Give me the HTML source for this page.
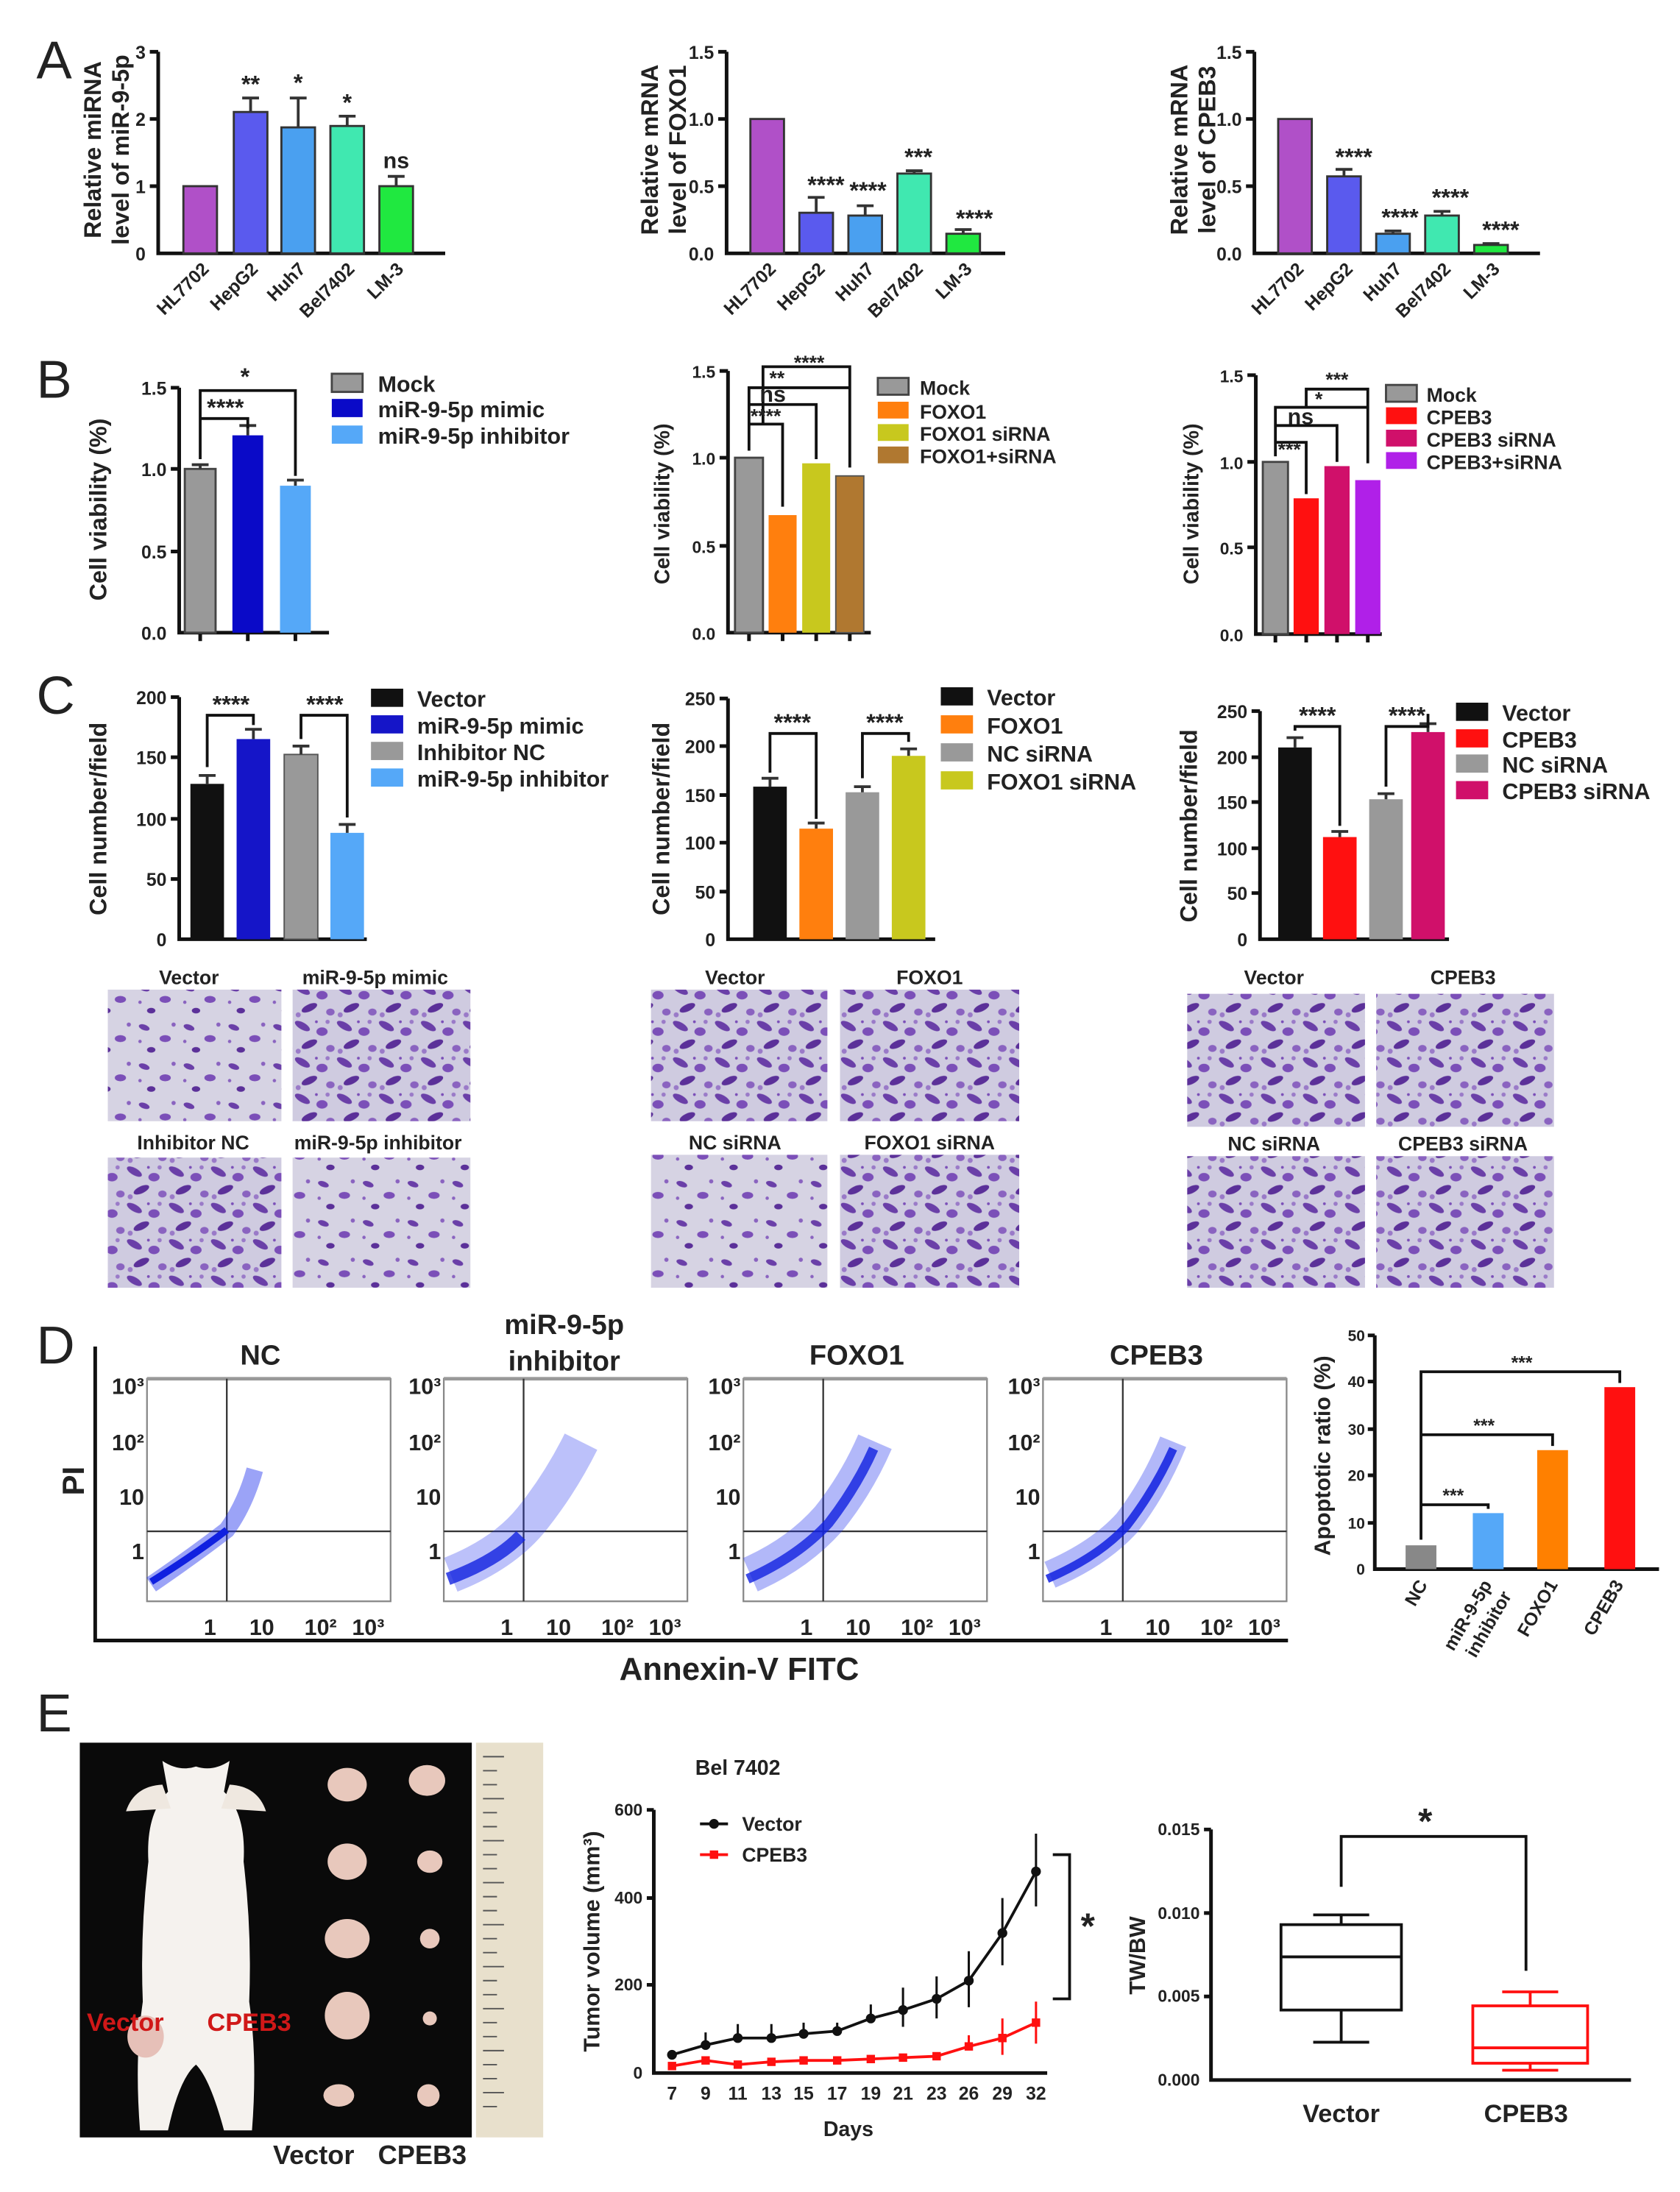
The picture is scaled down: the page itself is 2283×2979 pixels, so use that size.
<!DOCTYPE html>
<html><head><meta charset="utf-8"><style>
html,body{margin:0;padding:0;background:#fff}
svg{display:block}
text{font-family:"Liberation Sans",Arial,sans-serif;font-weight:bold;fill:#222}
.ax{stroke:#111;stroke-width:2.6;fill:none}
.br{stroke:#111;stroke-width:2;fill:none}
.eb{stroke:#333;stroke-width:2;fill:none}
.t{font-size:13px}
.yl{font-size:17px}
.lg{font-size:16px}
.st{font-size:17px}
</style></head><body>
<svg width="2283" height="2979" viewBox="0 0 1200 1566" preserveAspectRatio="none" xmlns="http://www.w3.org/2000/svg">
<defs>
<pattern id="cells" width="30" height="26" patternUnits="userSpaceOnUse">
<rect width="30" height="26" fill="#cfcbe0"/>
<ellipse cx="6" cy="5" rx="6" ry="2.5" fill="#6a3fa8" transform="rotate(30 6 5)"/>
<ellipse cx="20" cy="9" rx="4" ry="3" fill="#7b4fb8"/>
<ellipse cx="11" cy="18" rx="6" ry="2.5" fill="#5b3099" transform="rotate(-25 11 18)"/>
<ellipse cx="26" cy="21" rx="3" ry="2.5" fill="#8a63c0"/>
<circle cx="3" cy="23" r="1.8" fill="#9a7ac8"/>
<circle cx="24" cy="2" r="1.5" fill="#9a7ac8"/>
<circle cx="16" cy="2" r="1" fill="#7b4fb8"/>
</pattern>
<pattern id="cells2" width="32" height="28" patternUnits="userSpaceOnUse">
<rect width="32" height="28" fill="#d6d3e3"/>
<ellipse cx="7" cy="6" rx="4" ry="2" fill="#6a3fa8" transform="rotate(20 7 6)"/>
<ellipse cx="22" cy="14" rx="4" ry="2.5" fill="#7b4fb8"/>
<ellipse cx="12" cy="22" rx="3" ry="2" fill="#5b3099"/>
<circle cx="28" cy="4" r="1.5" fill="#8a63c0"/>
<circle cx="4" cy="16" r="1.2" fill="#8a63c0"/>
</pattern>
</defs>
<rect width="1200" height="1566" fill="#fff"/>

<!-- ===== A ===== -->
<text x="26" y="56" style="font-size:38px;font-weight:normal">A</text>
<text transform="translate(72,107) rotate(-90)" text-anchor="middle" class="yl">Relative miRNA</text>
<text transform="translate(92,107) rotate(-90)" text-anchor="middle" class="yl">level of miR-9-5p</text>
<path class="ax" d="M113,37V181H318"/>
<path class="ax" d="M107,37H113M107,85H113M107,133H113"/>
<text x="104" y="42" class="t" text-anchor="end">3</text><text x="104" y="90" class="t" text-anchor="end">2</text><text x="104" y="138" class="t" text-anchor="end">1</text><text x="104" y="186" class="t" text-anchor="end">0</text>
<rect x="131" y="133" width="24" height="48" fill="#b050c8" stroke="#333" stroke-width="1.5"/>
<rect x="167" y="80" width="24" height="101" fill="#5a5aee" stroke="#333" stroke-width="1.5"/>
<rect x="201" y="91" width="24" height="90" fill="#4aa0f0" stroke="#333" stroke-width="1.5"/>
<rect x="236" y="90" width="24" height="91" fill="#40e8b0" stroke="#333" stroke-width="1.5"/>
<rect x="271" y="133" width="24" height="48" fill="#20e840" stroke="#333" stroke-width="1.5"/>
<path class="eb" d="M179,80V70M173,70H185M213,91V70M207,70H219M248,90V83M242,83H254M283,133V126M277,126H289"/>
<text x="179" y="66" class="st" text-anchor="middle">**</text><text x="213" y="65" class="st" text-anchor="middle">*</text><text x="248" y="79" class="st" text-anchor="middle">*</text><text x="283" y="120" style="font-size:16px" text-anchor="middle">ns</text>
<g class="t" text-anchor="end"><text transform="translate(150,193) rotate(-45)">HL7702</text><text transform="translate(185,193) rotate(-45)">HepG2</text><text transform="translate(219,193) rotate(-45)">Huh7</text><text transform="translate(254,193) rotate(-45)">Bel7402</text><text transform="translate(289,193) rotate(-45)">LM-3</text></g>
<!-- A2 -->
<text transform="translate(470,107) rotate(-90)" text-anchor="middle" class="yl">Relative mRNA</text>
<text transform="translate(490,107) rotate(-90)" text-anchor="middle" class="yl">level of FOXO1</text>
<path class="ax" d="M519,37V181H718"/>
<path class="ax" d="M513,37H519M513,85H519M513,133H519"/>
<text x="510" y="42" class="t" text-anchor="end">1.5</text><text x="510" y="90" class="t" text-anchor="end">1.0</text><text x="510" y="138" class="t" text-anchor="end">0.5</text><text x="510" y="186" class="t" text-anchor="end">0.0</text>
<rect x="536" y="85" width="24" height="96" fill="#b050c8" stroke="#333" stroke-width="1.5"/>
<rect x="571" y="152" width="24" height="29" fill="#5a5aee" stroke="#333" stroke-width="1.5"/>
<rect x="606" y="154" width="24" height="27" fill="#4aa0f0" stroke="#333" stroke-width="1.5"/>
<rect x="641" y="124" width="24" height="57" fill="#40e8b0" stroke="#333" stroke-width="1.5"/>
<rect x="676" y="167" width="24" height="14" fill="#20e840" stroke="#333" stroke-width="1.5"/>
<path class="eb" d="M583,152V141M577,141H589M618,154V147M612,147H624M653,124V122M647,122H659M688,167V164M682,164H694"/>
<text x="590" y="138" class="st" text-anchor="middle">****</text><text x="620" y="142" class="st" text-anchor="middle">****</text><text x="656" y="118" class="st" text-anchor="middle">***</text><text x="696" y="162" class="st" text-anchor="middle">****</text>
<g class="t" text-anchor="end"><text transform="translate(555,193) rotate(-45)">HL7702</text><text transform="translate(590,193) rotate(-45)">HepG2</text><text transform="translate(625,193) rotate(-45)">Huh7</text><text transform="translate(660,193) rotate(-45)">Bel7402</text><text transform="translate(695,193) rotate(-45)">LM-3</text></g>
<!-- A3 -->
<text transform="translate(848,107) rotate(-90)" text-anchor="middle" class="yl">Relative mRNA</text>
<text transform="translate(868,107) rotate(-90)" text-anchor="middle" class="yl">level of CPEB3</text>
<path class="ax" d="M896,37V181H1100"/>
<path class="ax" d="M890,37H896M890,85H896M890,133H896"/>
<text x="887" y="42" class="t" text-anchor="end">1.5</text><text x="887" y="90" class="t" text-anchor="end">1.0</text><text x="887" y="138" class="t" text-anchor="end">0.5</text><text x="887" y="186" class="t" text-anchor="end">0.0</text>
<rect x="913" y="85" width="24" height="96" fill="#b050c8" stroke="#333" stroke-width="1.5"/>
<rect x="948" y="126" width="24" height="55" fill="#5a5aee" stroke="#333" stroke-width="1.5"/>
<rect x="983" y="167" width="24" height="14" fill="#4aa0f0" stroke="#333" stroke-width="1.5"/>
<rect x="1018" y="154" width="24" height="27" fill="#40e8b0" stroke="#333" stroke-width="1.5"/>
<rect x="1053" y="175" width="24" height="6" fill="#20e840" stroke="#333" stroke-width="1.5"/>
<path class="eb" d="M960,126V121M954,121H966M995,167V165M989,165H1001M1030,154V151M1024,151H1036M1065,175V174M1059,174H1071"/>
<text x="967" y="118" class="st" text-anchor="middle">****</text><text x="1000" y="161" class="st" text-anchor="middle">****</text><text x="1036" y="147" class="st" text-anchor="middle">****</text><text x="1072" y="170" class="st" text-anchor="middle">****</text>
<g class="t" text-anchor="end"><text transform="translate(932,193) rotate(-45)">HL7702</text><text transform="translate(967,193) rotate(-45)">HepG2</text><text transform="translate(1002,193) rotate(-45)">Huh7</text><text transform="translate(1037,193) rotate(-45)">Bel7402</text><text transform="translate(1072,193) rotate(-45)">LM-3</text></g>

<!-- ===== B ===== -->
<text x="26" y="284" style="font-size:38px;font-weight:normal">B</text>
<text transform="translate(76,364) rotate(-90)" text-anchor="middle" class="yl">Cell viability (%)</text>
<path class="ax" d="M128,277V452H235"/>
<path class="ax" d="M122,277H128M122,335H128M122,394H128M143,452V458M177,452V458M211,452V458"/>
<text x="119" y="282" class="t" text-anchor="end">1.5</text><text x="119" y="340" class="t" text-anchor="end">1.0</text><text x="119" y="399" class="t" text-anchor="end">0.5</text><text x="119" y="457" class="t" text-anchor="end">0.0</text>
<rect x="132" y="335" width="22" height="117" fill="#999" stroke="#444" stroke-width="1.5"/>
<rect x="166" y="311" width="22" height="141" fill="#0a0ac8"/>
<rect x="200" y="347" width="22" height="105" fill="#55a8f8"/>
<path class="eb" d="M143,335V332M137,332H149M177,311V304M171,304H183M211,347V343M205,343H217"/>
<path class="br" d="M143,328V299H177V306M143,299V279H211V340"/>
<text x="161" y="297" class="st" text-anchor="middle">****</text><text x="175" y="275" class="st" text-anchor="middle">*</text>
<rect x="237" y="267" width="22" height="13" fill="#999" stroke="#444" stroke-width="1.5"/><text x="270" y="280" class="lg">Mock</text>
<rect x="237" y="285" width="22" height="13" fill="#0a0ac8"/><text x="270" y="298" class="lg">miR-9-5p mimic</text>
<rect x="237" y="304" width="22" height="13" fill="#55a8f8"/><text x="270" y="317" class="lg">miR-9-5p inhibitor</text>
<!-- B2 -->
<text transform="translate(478,360) rotate(-90)" text-anchor="middle" style="font-size:15px">Cell viability (%)</text>
<path class="ax" d="M520,265V452H622"/>
<path class="ax" d="M514,265H520M514,327H520M514,390H520M535,452V458M559,452V458M583,452V458M607,452V458"/>
<text x="511" y="270" style="font-size:12px" text-anchor="end">1.5</text><text x="511" y="332" style="font-size:12px" text-anchor="end">1.0</text><text x="511" y="395" style="font-size:12px" text-anchor="end">0.5</text><text x="511" y="457" style="font-size:12px" text-anchor="end">0.0</text>
<rect x="525" y="327" width="20" height="125" fill="#999" stroke="#444" stroke-width="1.5"/>
<rect x="549" y="368" width="20" height="84" fill="#ff7f0e"/>
<rect x="573" y="331" width="20" height="121" fill="#c8c81e"/>
<rect x="597" y="340" width="20" height="112" fill="#b07830" stroke="#555" stroke-width="1"/>
<path class="br" d="M535,322V303H559V362M535,303V289H583V328M535,289V277H607V334M545,303V262H607V277"/>
<text x="547" y="302" style="font-size:14px" text-anchor="middle">****</text><text x="552" y="287" style="font-size:16px" text-anchor="middle">ns</text><text x="555" y="275" style="font-size:14px" text-anchor="middle">**</text><text x="578" y="264" style="font-size:14px" text-anchor="middle">****</text>
<rect x="627" y="270" width="22" height="12" fill="#999" stroke="#444" stroke-width="1.5"/><text x="657" y="282" style="font-size:14px">Mock</text>
<rect x="627" y="287" width="22" height="12" fill="#ff7f0e"/><text x="657" y="299" style="font-size:14px">FOXO1</text>
<rect x="627" y="303" width="22" height="12" fill="#c8c81e"/><text x="657" y="315" style="font-size:14px">FOXO1 siRNA</text>
<rect x="627" y="319" width="22" height="12" fill="#b07830"/><text x="657" y="331" style="font-size:14px">FOXO1+siRNA</text>
<!-- B3 -->
<text transform="translate(856,360) rotate(-90)" text-anchor="middle" style="font-size:15px">Cell viability (%)</text>
<path class="ax" d="M897,268V453H987"/>
<path class="ax" d="M891,268H897M891,330H897M891,391H897M911,453V459M933,453V459M955,453V459M977,453V459"/>
<text x="888" y="273" style="font-size:12px" text-anchor="end">1.5</text><text x="888" y="335" style="font-size:12px" text-anchor="end">1.0</text><text x="888" y="396" style="font-size:12px" text-anchor="end">0.5</text><text x="888" y="458" style="font-size:12px" text-anchor="end">0.0</text>
<rect x="902" y="330" width="18" height="123" fill="#999" stroke="#444" stroke-width="1.5"/>
<rect x="924" y="356" width="18" height="97" fill="#ff1010"/>
<rect x="946" y="333" width="18" height="120" fill="#d0106a"/>
<rect x="968" y="343" width="18" height="110" fill="#b020e8"/>
<path class="br" d="M911,326V316H933V353M911,316V304H955V330M911,304V291H977V331M933,291V278H977V291"/>
<text x="921" y="326" style="font-size:14px" text-anchor="middle">***</text><text x="929" y="303" style="font-size:16px" text-anchor="middle">ns</text><text x="942" y="290" style="font-size:14px" text-anchor="middle">*</text><text x="955" y="276" style="font-size:14px" text-anchor="middle">***</text>
<rect x="990" y="275" width="22" height="12" fill="#999" stroke="#444" stroke-width="1.5"/><text x="1019" y="287" style="font-size:14px">Mock</text>
<rect x="990" y="291" width="22" height="12" fill="#ff1010"/><text x="1019" y="303" style="font-size:14px">CPEB3</text>
<rect x="990" y="307" width="22" height="12" fill="#d0106a"/><text x="1019" y="319" style="font-size:14px">CPEB3 siRNA</text>
<rect x="990" y="323" width="22" height="12" fill="#b020e8"/><text x="1019" y="335" style="font-size:14px">CPEB3+siRNA</text>

<!-- ===== C ===== -->
<text x="26" y="510" style="font-size:38px;font-weight:normal">C</text>
<text transform="translate(76,585) rotate(-90)" text-anchor="middle" class="yl">Cell number/field</text>
<path class="ax" d="M128,498V671H262"/>
<path class="ax" d="M122,498H128M122,541H128M122,585H128M122,628H128"/>
<text x="119" y="503" class="t" text-anchor="end">200</text><text x="119" y="546" class="t" text-anchor="end">150</text><text x="119" y="590" class="t" text-anchor="end">100</text><text x="119" y="633" class="t" text-anchor="end">50</text><text x="119" y="676" class="t" text-anchor="end">0</text>
<rect x="136" y="560" width="24" height="111" fill="#111"/>
<rect x="169" y="528" width="24" height="143" fill="#1515c8"/>
<rect x="203" y="539" width="24" height="132" fill="#999" stroke="#555" stroke-width="1"/>
<rect x="236" y="595" width="24" height="76" fill="#55a8f8"/>
<path class="eb" d="M148,560V554M142,554H154M181,528V521M175,521H187M215,539V533M209,533H221M248,595V589M242,589H254"/>
<path class="br" d="M148,548V511H181V518M215,528V511H248V584"/>
<text x="165" y="509" class="st" text-anchor="middle">****</text><text x="232" y="509" class="st" text-anchor="middle">****</text>
<rect x="265" y="492" width="23" height="13" fill="#111"/><text x="298" y="505" class="lg">Vector</text>
<rect x="265" y="511" width="23" height="13" fill="#1515c8"/><text x="298" y="524" class="lg">miR-9-5p mimic</text>
<rect x="265" y="530" width="23" height="13" fill="#999"/><text x="298" y="543" class="lg">Inhibitor NC</text>
<rect x="265" y="549" width="23" height="13" fill="#55a8f8"/><text x="298" y="562" class="lg">miR-9-5p inhibitor</text>
<!-- C2 -->
<text transform="translate(478,585) rotate(-90)" text-anchor="middle" class="yl">Cell number/field</text>
<path class="ax" d="M520,499V671H668"/>
<path class="ax" d="M514,499H520M514,533H520M514,568H520M514,602H520M514,637H520"/>
<text x="511" y="504" class="t" text-anchor="end">250</text><text x="511" y="538" class="t" text-anchor="end">200</text><text x="511" y="573" class="t" text-anchor="end">150</text><text x="511" y="607" class="t" text-anchor="end">100</text><text x="511" y="642" class="t" text-anchor="end">50</text><text x="511" y="676" class="t" text-anchor="end">0</text>
<rect x="538" y="562" width="24" height="109" fill="#111"/>
<rect x="571" y="592" width="24" height="79" fill="#ff7f0e"/>
<rect x="604" y="566" width="24" height="105" fill="#999"/>
<rect x="637" y="540" width="24" height="131" fill="#c8c81e"/>
<path class="eb" d="M550,562V556M544,556H556M583,592V588M577,588H589M616,566V562M610,562H622M649,540V535M643,535H655"/>
<path class="br" d="M550,552V524H583V585M616,556V524H649V530"/>
<text x="566" y="522" class="st" text-anchor="middle">****</text><text x="632" y="522" class="st" text-anchor="middle">****</text>
<rect x="672" y="491" width="23" height="13" fill="#111"/><text x="705" y="504" class="lg">Vector</text>
<rect x="672" y="511" width="23" height="13" fill="#ff7f0e"/><text x="705" y="524" class="lg">FOXO1</text>
<rect x="672" y="531" width="23" height="13" fill="#999"/><text x="705" y="544" class="lg">NC siRNA</text>
<rect x="672" y="551" width="23" height="13" fill="#c8c81e"/><text x="705" y="564" class="lg">FOXO1 siRNA</text>
<!-- C3 -->
<text transform="translate(855,590) rotate(-90)" text-anchor="middle" class="yl">Cell number/field</text>
<path class="ax" d="M900,508V671H1035"/>
<path class="ax" d="M894,508H900M894,541H900M894,573H900M894,606H900M894,638H900"/>
<text x="891" y="513" class="t" text-anchor="end">250</text><text x="891" y="546" class="t" text-anchor="end">200</text><text x="891" y="578" class="t" text-anchor="end">150</text><text x="891" y="611" class="t" text-anchor="end">100</text><text x="891" y="643" class="t" text-anchor="end">50</text><text x="891" y="676" class="t" text-anchor="end">0</text>
<rect x="913" y="534" width="24" height="137" fill="#111"/>
<rect x="945" y="598" width="24" height="73" fill="#ff1010"/>
<rect x="978" y="571" width="24" height="100" fill="#999"/>
<rect x="1008" y="523" width="24" height="148" fill="#d0106a"/>
<path class="eb" d="M925,534V527M919,527H931M957,598V594M951,594H963M990,571V567M984,567H996M1020,523V517M1014,517H1026"/>
<path class="br" d="M925,522V519H957V590M990,562V519H1020V510"/>
<text x="941" y="517" class="st" text-anchor="middle">****</text><text x="1005" y="517" class="st" text-anchor="middle">****</text>
<rect x="1040" y="502" width="23" height="13" fill="#111"/><text x="1073" y="515" class="lg">Vector</text>
<rect x="1040" y="521" width="23" height="13" fill="#ff1010"/><text x="1073" y="534" class="lg">CPEB3</text>
<rect x="1040" y="539" width="23" height="13" fill="#999"/><text x="1073" y="552" class="lg">NC siRNA</text>
<rect x="1040" y="558" width="23" height="13" fill="#d0106a"/><text x="1073" y="571" class="lg">CPEB3 siRNA</text>

<!-- microscopy -->
<g style="font-size:14px" text-anchor="middle">
<text x="135" y="703">Vector</text><text x="268" y="703">miR-9-5p mimic</text>
<text x="138" y="821">Inhibitor NC</text><text x="270" y="821">miR-9-5p inhibitor</text>
<text x="525" y="703">Vector</text><text x="664" y="703">FOXO1</text>
<text x="525" y="821">NC siRNA</text><text x="664" y="821">FOXO1 siRNA</text>
<text x="910" y="703">Vector</text><text x="1045" y="703">CPEB3</text>
<text x="910" y="822">NC siRNA</text><text x="1045" y="822">CPEB3 siRNA</text>
</g>
<rect x="77" y="707" width="124" height="94" fill="url(#cells2)"/>
<rect x="209" y="707" width="127" height="94" fill="url(#cells)"/>
<rect x="77" y="827" width="124" height="93" fill="url(#cells)"/>
<rect x="209" y="827" width="127" height="93" fill="url(#cells2)"/>
<rect x="465" y="707" width="126" height="94" fill="url(#cells)"/>
<rect x="600" y="707" width="128" height="94" fill="url(#cells)"/>
<rect x="465" y="825" width="126" height="95" fill="url(#cells2)"/>
<rect x="600" y="825" width="128" height="95" fill="url(#cells)"/>
<rect x="848" y="710" width="127" height="95" fill="url(#cells)"/>
<rect x="983" y="710" width="127" height="95" fill="url(#cells)"/>
<rect x="848" y="826" width="127" height="94" fill="url(#cells)"/>
<rect x="983" y="826" width="127" height="94" fill="url(#cells)"/>

<!-- ===== D ===== -->
<text x="26" y="974" style="font-size:38px;font-weight:normal">D</text>
<path class="ax" d="M68,962V1172H920"/>
<text transform="translate(60,1058) rotate(-90)" text-anchor="middle" style="font-size:22px">PI</text>
<text x="528" y="1200" text-anchor="middle" style="font-size:23px">Annexin-V FITC</text>
<g style="font-size:20px" text-anchor="middle"><text x="186" y="975">NC</text><text x="403" y="953">miR-9-5p</text><text x="403" y="979">inhibitor</text><text x="612" y="975">FOXO1</text><text x="826" y="975">CPEB3</text></g>
<g>
<rect x="105" y="985" width="174" height="159" fill="none" stroke="#888" stroke-width="1.2"/>
<path d="M105,985H279" stroke="#999" stroke-width="2.5"/>
<path d="M162,985V1144M105,1094H279" stroke="#333" stroke-width="1.2"/>
<path d="M108,1132Q140,1110 162,1093Q175,1075 182,1050" stroke="#2233ee" stroke-width="12" fill="none" opacity="0.45"/>
<path d="M108,1130Q140,1110 162,1093" stroke="#1020e0" stroke-width="5" fill="none"/>
</g>
<g>
<rect x="317" y="985" width="174" height="159" fill="none" stroke="#888" stroke-width="1.2"/>
<path d="M317,985H491" stroke="#999" stroke-width="2.5"/>
<path d="M374,985V1144M317,1094H491" stroke="#333" stroke-width="1.2"/>
<path d="M322,1125Q360,1110 380,1085Q400,1060 415,1030" stroke="#2233ee" stroke-width="26" fill="none" opacity="0.3"/>
<path d="M320,1128Q355,1115 372,1097" stroke="#1020e0" stroke-width="9" fill="none" opacity="0.8"/>
</g>
<g>
<rect x="531" y="985" width="174" height="159" fill="none" stroke="#888" stroke-width="1.2"/>
<path d="M531,985H705" stroke="#999" stroke-width="2.5"/>
<path d="M588,985V1144M531,1094H705" stroke="#333" stroke-width="1.2"/>
<path d="M536,1125Q570,1110 592,1085Q612,1060 625,1030" stroke="#2233ee" stroke-width="26" fill="none" opacity="0.35"/>
<path d="M534,1128Q570,1112 592,1088Q612,1062 624,1035" stroke="#1020e0" stroke-width="7" fill="none" opacity="0.8"/>
</g>
<g>
<rect x="745" y="985" width="174" height="159" fill="none" stroke="#888" stroke-width="1.2"/>
<path d="M745,985H919" stroke="#999" stroke-width="2.5"/>
<path d="M802,985V1144M745,1094H919" stroke="#333" stroke-width="1.2"/>
<path d="M750,1125Q785,1110 805,1088Q825,1062 838,1030" stroke="#2233ee" stroke-width="20" fill="none" opacity="0.35"/>
<path d="M748,1128Q785,1112 805,1090Q825,1064 838,1035" stroke="#1020e0" stroke-width="6" fill="none" opacity="0.85"/>
</g>
<g style="font-size:16px" text-anchor="end">
<text x="103" y="996">10³</text><text x="103" y="1036">10²</text><text x="103" y="1075">10</text><text x="103" y="1114">1</text>
<text x="315" y="996">10³</text><text x="315" y="1036">10²</text><text x="315" y="1075">10</text><text x="315" y="1114">1</text>
<text x="529" y="996">10³</text><text x="529" y="1036">10²</text><text x="529" y="1075">10</text><text x="529" y="1114">1</text>
<text x="743" y="996">10³</text><text x="743" y="1036">10²</text><text x="743" y="1075">10</text><text x="743" y="1114">1</text>
</g>
<g style="font-size:16px" text-anchor="middle">
<text x="150" y="1168">1</text><text x="187" y="1168">10</text><text x="229" y="1168">10²</text><text x="263" y="1168">10³</text>
<text x="362" y="1168">1</text><text x="399" y="1168">10</text><text x="441" y="1168">10²</text><text x="475" y="1168">10³</text>
<text x="576" y="1168">1</text><text x="613" y="1168">10</text><text x="655" y="1168">10²</text><text x="689" y="1168">10³</text>
<text x="790" y="1168">1</text><text x="827" y="1168">10</text><text x="869" y="1168">10²</text><text x="903" y="1168">10³</text>
</g>
<text transform="translate(950,1040) rotate(-90)" text-anchor="middle" style="font-size:16px">Apoptotic ratio (%)</text>
<path class="ax" d="M982,954V1121H1185"/>
<path class="ax" d="M977,954H982M977,987H982M977,1021H982M977,1054H982M977,1088H982"/>
<g style="font-size:11px" text-anchor="end"><text x="975" y="958">50</text><text x="975" y="991">40</text><text x="975" y="1025">30</text><text x="975" y="1058">20</text><text x="975" y="1092">10</text><text x="975" y="1125">0</text></g>
<rect x="1004" y="1104" width="22" height="17" fill="#888"/>
<rect x="1052" y="1081" width="22" height="40" fill="#55a8f8"/>
<rect x="1098" y="1036" width="22" height="85" fill="#ff8000"/>
<rect x="1146" y="991" width="22" height="130" fill="#ff1010"/>
<path class="br" d="M1015,1100V1075H1063V1078M1015,1075V1025H1109V1033M1015,1025V980H1157V988"/>
<g style="font-size:13px" text-anchor="middle"><text x="1038" y="1073">***</text><text x="1060" y="1023">***</text><text x="1087" y="978">***</text></g>
<g style="font-size:13px" text-anchor="end">
<text transform="translate(1020,1132) rotate(-60)">NC</text>
<text transform="translate(1066,1132) rotate(-60)">miR-9-5p</text>
<text transform="translate(1080,1140) rotate(-60)">inhibitor</text>
<text transform="translate(1113,1132) rotate(-60)">FOXO1</text>
<text transform="translate(1160,1132) rotate(-60)">CPEB3</text>
</g>

<!-- ===== E ===== -->
<text x="26" y="1237" style="font-size:38px;font-weight:normal">E</text>
<rect x="57" y="1245" width="280" height="282" fill="#0a0a0a"/>
<path d="M116,1258Q128,1266 140,1262Q152,1266 164,1258L160,1280Q176,1296 174,1330Q180,1380 178,1430Q184,1470 180,1522H160Q150,1485 140,1475Q128,1485 120,1522H100Q96,1470 102,1430Q100,1380 106,1330Q104,1296 120,1280Z" fill="#f5f2ee"/>
<path d="M116,1275Q96,1276 90,1294L122,1292ZM164,1275Q184,1276 190,1294L158,1292Z" fill="#efe8e0"/>
<ellipse cx="104" cy="1455" rx="13" ry="15" fill="#e6c0b8"/>
<g fill="#e8c8bc">
<ellipse cx="248" cy="1275" rx="14" ry="12"/><ellipse cx="305" cy="1272" rx="13" ry="11"/>
<ellipse cx="248" cy="1330" rx="14" ry="13"/><ellipse cx="307" cy="1330" rx="9" ry="8"/>
<ellipse cx="248" cy="1385" rx="16" ry="14"/><ellipse cx="307" cy="1385" rx="7" ry="7"/>
<ellipse cx="248" cy="1440" rx="16" ry="17"/><ellipse cx="307" cy="1442" rx="5" ry="5"/>
<ellipse cx="242" cy="1497" rx="11" ry="8"/><ellipse cx="306" cy="1497" rx="8" ry="8"/>
</g>
<rect x="340" y="1245" width="48" height="282" fill="#e8e0cc"/>
<path d="M345,1255H360M345,1265H355M345,1275H355M345,1285H360M345,1295H355M345,1305H355M345,1315H360M345,1325H355M345,1335H355M345,1345H360M345,1355H355M345,1365H355M345,1375H360M345,1385H355M345,1395H355M345,1405H360M345,1415H355M345,1425H355M345,1435H360M345,1445H355M345,1455H355M345,1465H360M345,1475H355M345,1485H355M345,1495H360M345,1505H355" stroke="#555" stroke-width="1"/>
<text x="62" y="1451" style="font-size:18px;fill:#d01818">Vector</text><text x="148" y="1451" style="font-size:18px;fill:#d01818">CPEB3</text>
<text x="195" y="1546" style="font-size:19px">Vector</text><text x="270" y="1546" style="font-size:19px">CPEB3</text>
<text x="527" y="1268" text-anchor="middle" style="font-size:15px">Bel 7402</text>
<text transform="translate(428,1387) rotate(-90)" text-anchor="middle" style="font-size:16px">Tumor volume (mm³)</text>
<path class="ax" d="M467,1293V1481H748"/>
<path class="ax" d="M462,1293H467M462,1356H467M462,1418H467"/>
<g style="font-size:12px" text-anchor="end"><text x="459" y="1297">600</text><text x="459" y="1360">400</text><text x="459" y="1422">200</text><text x="459" y="1485">0</text></g>
<g style="font-size:13px" text-anchor="middle">
<text x="480" y="1500">7</text><text x="504" y="1500">9</text><text x="527" y="1500">11</text><text x="551" y="1500">13</text><text x="574" y="1500">15</text><text x="598" y="1500">17</text><text x="622" y="1500">19</text><text x="645" y="1500">21</text><text x="669" y="1500">23</text><text x="692" y="1500">26</text><text x="716" y="1500">29</text><text x="740" y="1500">32</text>
</g>
<text x="606" y="1526" text-anchor="middle" style="font-size:15px">Days</text>
<path d="M504,1460V1452M527,1456V1446M551,1456V1446M574,1453V1445M598,1451V1445M622,1442V1432M645,1436V1420M669,1428V1412M692,1415V1394M716,1381V1356M740,1337V1310M740,1337V1362M716,1381V1404M692,1415V1434M669,1428V1442M645,1436V1448" stroke="#111" stroke-width="1.6"/>
<path d="M692,1462V1454M716,1456V1442M740,1445V1430M740,1445V1460M716,1456V1468" stroke="#ff1010" stroke-width="1.6"/>
<polyline points="480,1468 504,1461 527,1456 551,1456 574,1453 598,1451 622,1442 645,1436 669,1428 692,1415 716,1381 740,1337" fill="none" stroke="#111" stroke-width="2"/>
<g fill="#111"><circle cx="480" cy="1468" r="3.5"/><circle cx="504" cy="1461" r="3.5"/><circle cx="527" cy="1456" r="3.5"/><circle cx="551" cy="1456" r="3.5"/><circle cx="574" cy="1453" r="3.5"/><circle cx="598" cy="1451" r="3.5"/><circle cx="622" cy="1442" r="3.5"/><circle cx="645" cy="1436" r="3.5"/><circle cx="669" cy="1428" r="3.5"/><circle cx="692" cy="1415" r="3.5"/><circle cx="716" cy="1381" r="3.5"/><circle cx="740" cy="1337" r="3.5"/></g>
<polyline points="480,1476 504,1472 527,1475 551,1473 574,1472 598,1472 622,1471 645,1470 669,1469 692,1462 716,1456 740,1445" fill="none" stroke="#ff1010" stroke-width="2"/>
<g fill="#ff1010"><rect x="477" y="1473" width="6" height="6"/><rect x="501" y="1469" width="6" height="6"/><rect x="524" y="1472" width="6" height="6"/><rect x="548" y="1470" width="6" height="6"/><rect x="571" y="1469" width="6" height="6"/><rect x="595" y="1469" width="6" height="6"/><rect x="619" y="1468" width="6" height="6"/><rect x="642" y="1467" width="6" height="6"/><rect x="666" y="1466" width="6" height="6"/><rect x="689" y="1459" width="6" height="6"/><rect x="713" y="1453" width="6" height="6"/><rect x="737" y="1442" width="6" height="6"/></g>
<path d="M500,1303H520" stroke="#111" stroke-width="2"/><circle cx="510" cy="1303" r="3.5" fill="#111"/><text x="530" y="1308" style="font-size:14px">Vector</text>
<path d="M500,1325H520" stroke="#ff1010" stroke-width="2"/><rect x="507" y="1322" width="6" height="6" fill="#ff1010"/><text x="530" y="1330" style="font-size:14px">CPEB3</text>
<path class="br" d="M752,1325H764V1428H752"/>
<text x="777" y="1385" text-anchor="middle" style="font-size:26px">*</text>
<text transform="translate(818,1397) rotate(-90)" text-anchor="middle" style="font-size:16px">TW/BW</text>
<path class="ax" d="M865,1307V1486H1165"/>
<path class="ax" d="M860,1307H865M860,1366.7H865M860,1426.3H865"/>
<g style="font-size:12px" text-anchor="end"><text x="857" y="1311">0.015</text><text x="857" y="1371">0.010</text><text x="857" y="1430">0.005</text><text x="857" y="1490">0.000</text></g>
<g fill="none" stroke="#111" stroke-width="2"><rect x="915" y="1375" width="86" height="61"/><path d="M915,1398H1001M958,1375V1368M958,1436V1459M938,1368H978M938,1459H978"/></g>
<g fill="none" stroke="#ff1010" stroke-width="2"><rect x="1052" y="1433" width="82" height="41"/><path d="M1052,1463H1134M1093,1433V1423M1093,1474V1479M1073,1423H1113M1073,1479H1113"/></g>
<path class="br" d="M958,1348V1312H1090V1408"/>
<text x="1018" y="1310" text-anchor="middle" style="font-size:26px">*</text>
<text x="958" y="1516" text-anchor="middle" style="font-size:18px">Vector</text><text x="1090" y="1516" text-anchor="middle" style="font-size:18px">CPEB3</text>
</svg>
</body></html>
